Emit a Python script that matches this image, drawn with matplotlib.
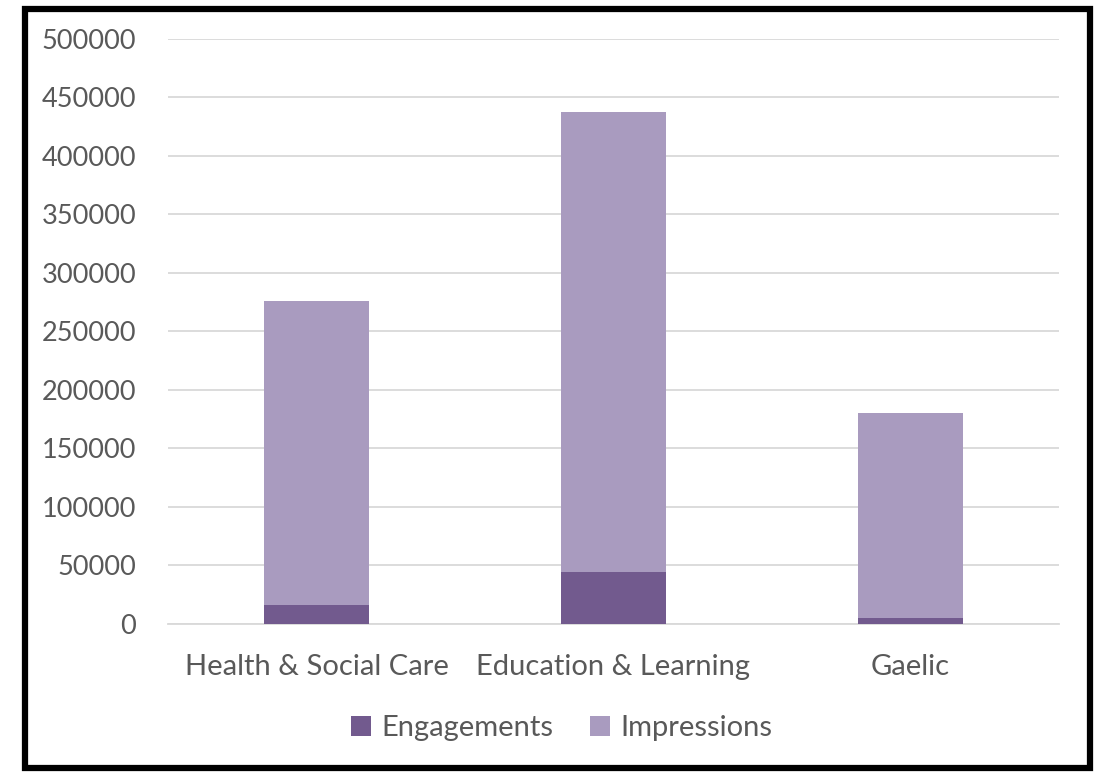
import matplotlib.pyplot as plt
import numpy as np
from matplotlib.patches import Rectangle

categories = ["Health & Social Care", "Education & Learning", "Gaelic"]
engagements = [15600, 44000, 5000]
impressions = [260500, 393500, 175000]
yticks = [0, 50000, 100000, 150000, 200000, 250000, 300000, 350000, 400000, 450000, 500000]

plt.rcParams['font.family'] = ['Lato', 'DejaVu Sans']
txt = '#595959'

fig = plt.figure(figsize=(10.97, 7.73), dpi=100)
ax = fig.add_axes([0.1531, 0.1934, 0.8123, 0.7561])

x = np.arange(len(categories))
ax.bar(x, engagements, width=0.355, color='#725A8E', label='Engagements', zorder=3)
ax.bar(x, impressions, width=0.355, bottom=engagements, color='#A99BBF',
       label='Impressions', zorder=3)

ax.set_xlim(-0.5, 2.5)
ax.set_ylim(0, 500000)
ax.set_yticks(yticks)
ax.set_yticklabels([str(v) for v in yticks])
ax.set_xticks(x)
ax.set_xticklabels(categories)
ax.tick_params(axis='both', length=0, colors=txt)
ax.tick_params(axis='y', pad=23, labelsize=19.5)
ax.tick_params(axis='x', pad=22, labelsize=21)
ax.grid(axis='y', color='#D9D9D9', linewidth=1.3, zorder=0)
for s in ['top', 'right', 'left']:
    ax.spines[s].set_visible(False)
ax.spines['bottom'].set_color('#D9D9D9')
ax.spines['bottom'].set_linewidth(1.3)

leg = fig.legend(loc='center', bbox_to_anchor=(0.512, 0.058), ncol=2, frameon=False,
                 fontsize=21, handlelength=0.7, handleheight=0.7, handletextpad=0.35,
                 columnspacing=1.25)
for t in leg.get_texts():
    t.set_color(txt)

fig.patches.append(Rectangle((0.0225, 0.007), 0.971, 0.982, transform=fig.transFigure,
                             fill=False, edgecolor='black', linewidth=4.5))

fig.savefig('out.png', dpi=100)
